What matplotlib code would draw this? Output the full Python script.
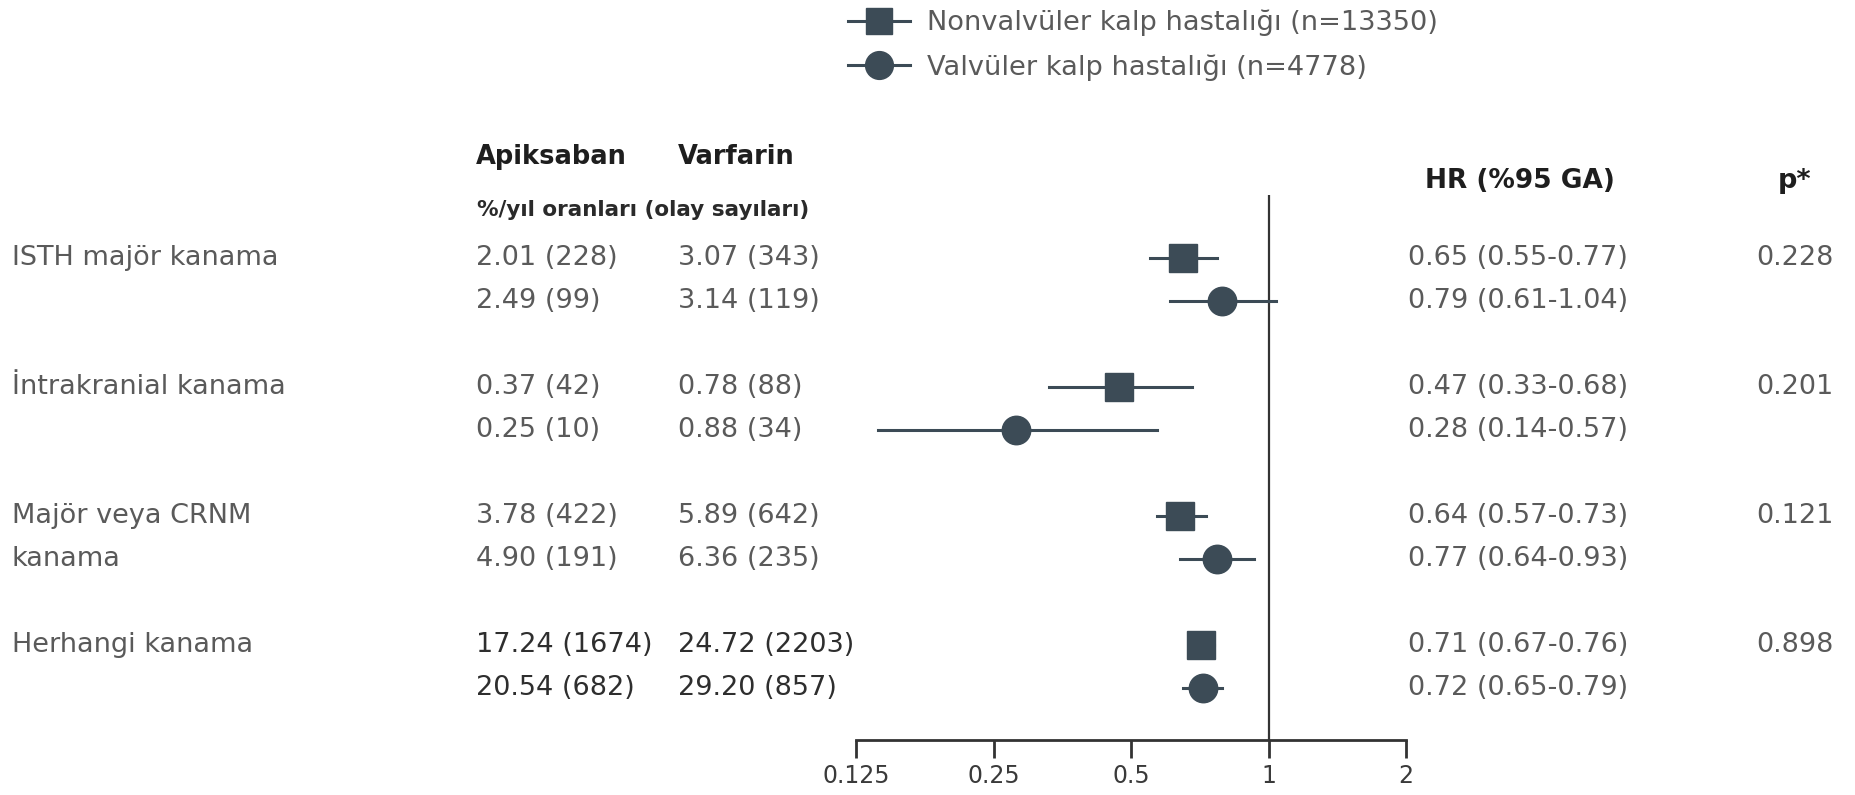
import matplotlib
matplotlib.use("Agg")
import matplotlib.pyplot as plt
import matplotlib.transforms as mtransforms
from matplotlib.lines import Line2D

plt.rcParams['font.family'] = ['DejaVu Sans']

# data
labels = ["ISTH majör kanama", "İntrakranial kanama", "Majör veya CRNM\nkanama", "Herhangi kanama"]
apix_nv = ["2.01 (228)", "0.37 (42)", "3.78 (422)", "17.24 (1674)"]
apix_v = ["2.49 (99)", "0.25 (10)", "4.90 (191)", "20.54 (682)"]
warf_nv = ["3.07 (343)", "0.78 (88)", "5.89 (642)", "24.72 (2203)"]
warf_v = ["3.14 (119)", "0.88 (34)", "6.36 (235)", "29.20 (857)"]
hr_nv = [0.65, 0.47, 0.64, 0.71]
lo_nv = [0.55, 0.33, 0.57, 0.67]
hi_nv = [0.77, 0.68, 0.73, 0.76]
hr_v = [0.79, 0.28, 0.77, 0.72]
lo_v = [0.61, 0.14, 0.64, 0.65]
hi_v = [1.04, 0.57, 0.93, 0.79]
pvals = ["0.228", "0.201", "0.121", "0.898"]
ticks = [0.125, 0.25, 0.5, 1, 2]
tick_labels = ["0.125", "0.25", "0.5", "1", "2"]
leg_nv = "Nonvalvüler kalp hastalığı (n=13350)"
leg_v = "Valvüler kalp hastalığı (n=4778)"

mcol = "#3c4b56"
tcol = "#5a5a5a"
dcol = "#2e2e2e"
hcol = "#1e1e1e"
fs = 19.5

fig = plt.figure(figsize=(18.55, 7.95), dpi=100)
ax = fig.add_axes([856/1855, 55/795, 550/1855, 545/795])
ax.set_xscale("log", base=2)
ax.set_xlim(0.125, 2)
ax.set_ylim(11.21, -1.465)

for s in ["top", "right", "left"]:
    ax.spines[s].set_visible(False)
ax.spines["bottom"].set_linewidth(2)
ax.spines["bottom"].set_color("#333333")
ax.set_yticks([])
ax.set_xticks(ticks)
ax.set_xticklabels(tick_labels)
ax.minorticks_off()
ax.tick_params(axis="x", length=13, width=2, color="#333333", labelsize=17,
               labelcolor="#3a3a3a", pad=4)
ax.axvline(1, color="#333333", lw=1.6, zorder=1)

for i in range(len(labels)):
    y1 = i * 3
    y2 = i * 3 + 1
    ax.plot([lo_nv[i], hi_nv[i]], [y1, y1], color=mcol, lw=2.2, zorder=2)
    ax.plot(hr_nv[i], y1, marker="s", ms=20, color=mcol, zorder=3)
    ax.plot([lo_v[i], hi_v[i]], [y2, y2], color=mcol, lw=2.2, zorder=2)
    ax.plot(hr_v[i], y2, marker="o", ms=20.5, color=mcol, zorder=3)

tr = mtransforms.blended_transform_factory(fig.transFigure, ax.transData)
for i in range(len(labels)):
    y1 = i * 3
    y2 = i * 3 + 1
    vc = dcol if i == len(labels) - 1 else tcol
    for k, line in enumerate(labels[i].split("\n")):
        fig.text(12/1855, y1 + k, line, transform=tr, fontsize=fs, color=tcol, va="center")
    fig.text(476/1855, y1, apix_nv[i], transform=tr, fontsize=fs, color=vc, va="center")
    fig.text(476/1855, y2, apix_v[i], transform=tr, fontsize=fs, color=vc, va="center")
    fig.text(678/1855, y1, warf_nv[i], transform=tr, fontsize=fs, color=vc, va="center")
    fig.text(678/1855, y2, warf_v[i], transform=tr, fontsize=fs, color=vc, va="center")
    fig.text(1408/1855, y1, f"{hr_nv[i]:.2f} ({lo_nv[i]:.2f}-{hi_nv[i]:.2f})", transform=tr,
             fontsize=fs, color=tcol, va="center")
    fig.text(1408/1855, y2, f"{hr_v[i]:.2f} ({lo_v[i]:.2f}-{hi_v[i]:.2f})", transform=tr,
             fontsize=fs, color=tcol, va="center")
    fig.text(1834/1855, y1, pvals[i], transform=tr, fontsize=fs, color=tcol, va="center", ha="right")

# headers
fig.text(476/1855, 1 - 157/795, "Apiksaban", fontsize=18.5, weight="bold", color=hcol, va="center")
fig.text(678/1855, 1 - 157/795, "Varfarin", fontsize=18.5, weight="bold", color=hcol, va="center")
fig.text(477/1855, 1 - 210/795, "%/yıl oranları (olay sayıları)", fontsize=15.5, weight="bold",
         color="#2a2a2a", va="center")
fig.text(1425/1855, 1 - 181/795, "HR (%95 GA)", fontsize=19, weight="bold", color=hcol,
         va="center", ha="left")
fig.text(1795/1855, 1 - 181/795, "p*", fontsize=19.5, weight="bold", color=hcol,
         va="center", ha="center")

handles = [Line2D([], [], color=mcol, lw=2.2, marker="s", ms=19),
           Line2D([], [], color=mcol, lw=2.2, marker="o", ms=20)]
fig.legend(handles, [leg_nv, leg_v], loc="upper left", bbox_to_anchor=(848/1855, 1 - 10/795),
           frameon=False, fontsize=19.6, labelcolor=tcol, handlelength=2.28,
           handletextpad=0.62, labelspacing=0.66, borderpad=0, borderaxespad=0)

fig.savefig("out.png", dpi=100)
